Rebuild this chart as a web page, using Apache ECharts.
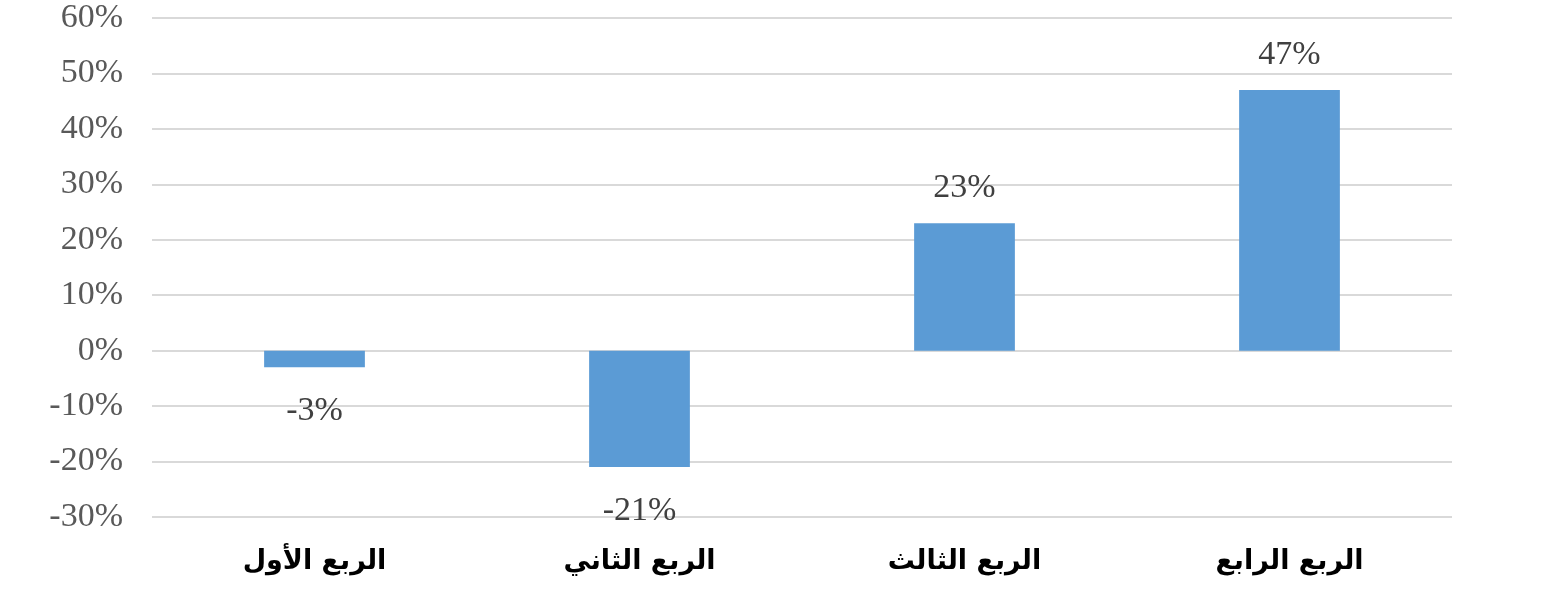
<!DOCTYPE html>
<html>
<head>
<meta charset="utf-8">
<script src="https://cdn.jsdelivr.net/npm/echarts@6/dist/echarts.min.js"></script>
<style>
html,body{margin:0;padding:0;background:#fff;}
#chart{width:1561px;height:611px;}
</style>
</head>
<body>
<div id="chart"></div>
<script>
const categories = ['الربع الأول', 'الربع الثاني', 'الربع الثالث', 'الربع الرابع'];
const values = [-3, -21, 23, 47];
const yTicks = { min: -30, max: 60, interval: 10 };

const chart = echarts.init(document.getElementById('chart'), null, { renderer: 'canvas' });
const serif = '"Liberation Serif", "DejaVu Serif", serif';
const option = {
  animation: false,
  backgroundColor: '#ffffff',
  grid: { left: 152, right: 109, top: 18, bottom: 94, containLabel: false },
  xAxis: {
    type: 'category',
    data: categories,
    position: 'bottom',
    axisLine: { show: false, onZero: false },
    axisTick: { show: false },
    axisLabel: {
      color: '#000000',
      fontSize: 27,
      fontWeight: 'bold',
      fontFamily: '"DejaVu Sans", sans-serif',
      margin: 31
    }
  },
  yAxis: {
    type: 'value',
    min: yTicks.min,
    max: yTicks.max,
    interval: yTicks.interval,
    axisLine: { show: false },
    axisTick: { show: false },
    splitLine: { lineStyle: { color: '#d9d9d9', width: 2 } },
    axisLabel: {
      color: '#595959',
      fontSize: 34,
      fontFamily: serif,
      margin: 29,
      padding: [6, 0, 0, 0],
      formatter: v => v + '%'
    }
  },
  series: [{
    type: 'bar',
    barWidth: '31%',
    itemStyle: { color: '#5b9bd5' },
    data: values.map(v => ({
      value: v,
      label: {
        show: true,
        position: v >= 0 ? 'top' : 'bottom',
        distance: v >= 0 ? 18 : 27,
        color: '#404040',
        fontSize: 34,
        fontFamily: serif,
        formatter: p => p.value + '%'
      }
    }))
  }]
};
chart.setOption(option);
</script>
</body>
</html>
